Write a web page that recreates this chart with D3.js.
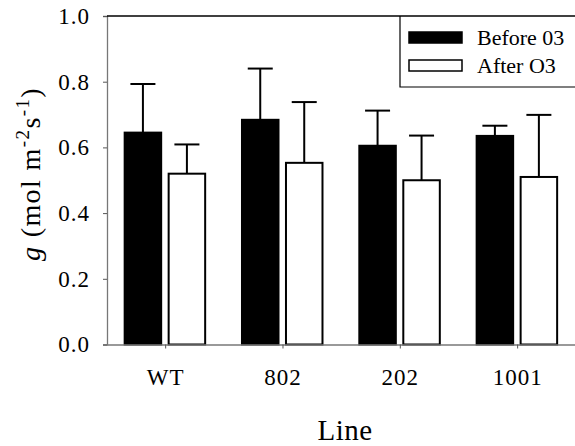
<!DOCTYPE html>
<html><head><meta charset="utf-8">
<script src="https://cdn.jsdelivr.net/npm/d3@7"></script>
<style>html,body{margin:0;padding:0;background:#fff;overflow:hidden}</style>
</head><body>
<svg id="c" width="575" height="446"></svg>
<script>
const categories = ["WT", "802", "202", "1001"];
const seriesNames = ["Before 03", "After O3"];
const beforeMeans = [0.645, 0.684, 0.605, 0.635];
const beforeErr   = [0.148, 0.156, 0.107, 0.031];
const afterMeans  = [0.520, 0.553, 0.500, 0.510];
const afterErr    = [0.089, 0.185, 0.136, 0.189];
const yTicks = [0.0, 0.2, 0.4, 0.6, 0.8, 1.0];

(function () {
const svg = d3.select("#c");
const font = "'Liberation Serif', 'Times New Roman', serif";
const pLeft = 107, pRight = 576.3, pTop = 16, pBottom = 344.5;

const x0 = d3.scaleBand().domain(categories).range([pLeft, pRight]).padding(0);
const x1 = d3.scaleBand().domain(seriesNames).range([-41, 39.5]).paddingInner(0.17);
const y = d3.scaleLinear().domain([0, 1]).range([pBottom, pTop]);

const data = [];
categories.forEach((c, i) => {
  data.push({cat: c, s: seriesNames[0], v: beforeMeans[i], e: beforeErr[i]});
  data.push({cat: c, s: seriesNames[1], v: afterMeans[i], e: afterErr[i]});
});
const center = c => x0(c) + x0.bandwidth() / 2;
const fillOf = s => s === seriesNames[0] ? "#000" : "#fff";

// error bars
const eb = svg.append("g");
data.forEach(d => {
  const cx = center(d.cat) + x1(d.s) + x1.bandwidth() / 2;
  eb.append("line").attr("x1", cx).attr("x2", cx).attr("y1", y(d.v)).attr("y2", y(d.v + d.e))
    .attr("stroke", "#000").attr("stroke-width", 2);
  eb.append("line").attr("x1", cx - 12.5).attr("x2", cx + 12.5).attr("y1", y(d.v + d.e)).attr("y2", y(d.v + d.e))
    .attr("stroke", "#000").attr("stroke-width", 2);
});

// bars
svg.append("g").selectAll("rect").data(data).join("rect")
  .attr("x", d => center(d.cat) + x1(d.s))
  .attr("width", x1.bandwidth())
  .attr("y", d => y(d.v))
  .attr("height", d => y(0) - y(d.v))
  .attr("fill", d => fillOf(d.s))
  .attr("stroke", "#000").attr("stroke-width", 2);

// axes
const yAxis = d3.axisLeft(y).tickValues(yTicks).tickFormat(d3.format(".1f")).tickSize(4).tickPadding(13);
const gy = svg.append("g").attr("transform", `translate(${pLeft},0)`).call(yAxis);
gy.attr("font-family", font);
gy.select(".domain").attr("stroke", "#777").attr("stroke-width", 1.3);
gy.selectAll(".tick line").attr("stroke", "#555");
gy.selectAll("text").style("font-family", font).attr("font-size", 23).attr("letter-spacing", 1).attr("fill", "#000");

const xAxis = d3.axisBottom(x0).tickSize(4).tickPadding(20).tickSizeOuter(0);
const gx = svg.append("g").attr("transform", `translate(0,${pBottom})`).call(xAxis);
gx.attr("font-family", font);
gx.select(".domain").attr("stroke", "#777").attr("stroke-width", 1.3);
gx.selectAll(".tick line").attr("stroke", "#555");
gx.selectAll("text").style("font-family", font).attr("font-size", 23).attr("letter-spacing", 1).attr("fill", "#000");

// top frame line
svg.append("line").attr("x1", pLeft).attr("x2", 575).attr("y1", pTop).attr("y2", pTop)
  .attr("stroke", "#000").attr("stroke-width", 1.5);

// axis titles
svg.append("text").attr("x", 345).attr("y", 440).attr("text-anchor", "middle")
  .style("font-family", font).attr("font-size", 29).attr("letter-spacing", 0.5).text("Line");

const yt = svg.append("text").attr("transform", "translate(40,174) rotate(-90)")
  .attr("text-anchor", "middle").style("font-family", font).attr("font-size", 28).attr("letter-spacing", 1.4);
yt.append("tspan").attr("font-style", "italic").text("g");
yt.append("tspan").text(" (mol m");
yt.append("tspan").attr("font-size", 19).attr("dy", -11).text("-2");
yt.append("tspan").attr("dy", 11).text("s");
yt.append("tspan").attr("font-size", 19).attr("dy", -11).text("-1");
yt.append("tspan").attr("dy", 11).text(")");

// legend
const lg = svg.append("g");
lg.append("path").attr("d", `M400,${pTop}V87H576`).attr("fill", "none").attr("stroke", "#000").attr("stroke-width", 1.2);
seriesNames.forEach((s, i) => {
  const yy = 32 + i * 28;
  lg.append("rect").attr("x", 409).attr("y", yy).attr("width", 53).attr("height", 11)
    .attr("fill", fillOf(s)).attr("stroke", "#000").attr("stroke-width", 1.5);
  lg.append("text").attr("x", 477).attr("y", yy + 13).style("font-family", font).attr("font-size", 22).text(s);
});
})();
</script>
</body></html>
